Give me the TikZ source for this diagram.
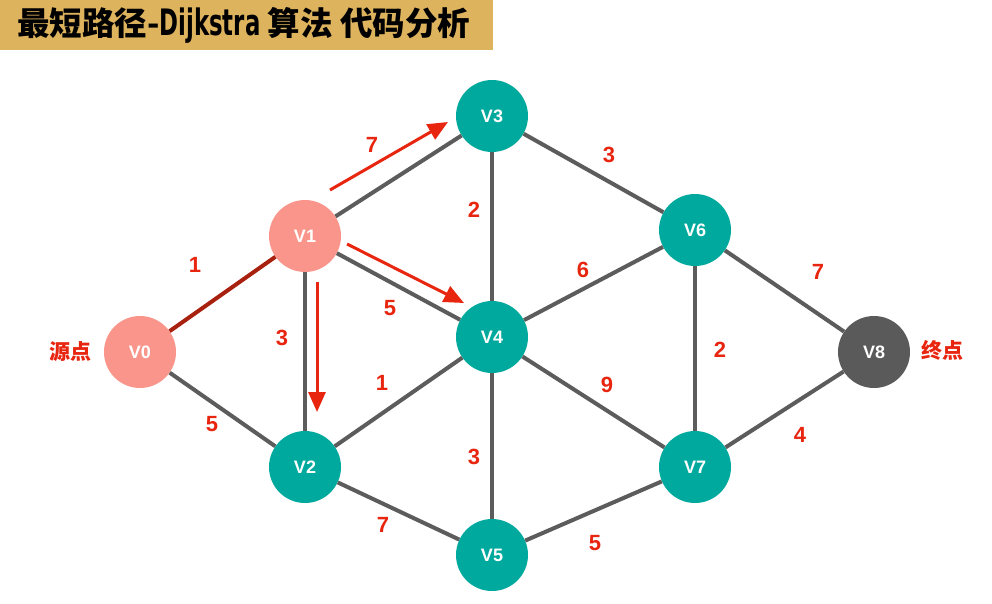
\documentclass[tikz,border=0pt]{standalone}
\usepackage{fontspec}
\setmainfont{Liberation Sans}
\newfontfamily\cjk{Noto Sans CJK SC}
\newfontfamily\cond{DejaVu Sans Condensed}
\usetikzlibrary{arrows.meta}
\definecolor{teal1}{HTML}{00A99D}
\definecolor{pink1}{HTML}{F9958B}
\definecolor{dark1}{HTML}{5A5A5A}
\definecolor{edgec}{HTML}{5C5C5C}
\definecolor{redl}{HTML}{E8250F}
\definecolor{gold1}{HTML}{DDB35E}
\definecolor{brown1}{HTML}{A8200E}
\tikzset{
  vert/.style={circle, minimum size=72pt, inner sep=0pt, text=white, font=\fontsize{18}{18}\selectfont\bfseries},
  tv/.style={vert, fill=teal1},
  pv/.style={vert, fill=pink1},
  dv/.style={vert, fill=dark1},
  edge/.style={draw=edgec, line width=4pt},
  wt/.style={text=redl, font=\fontsize{22}{22}\selectfont\bfseries, inner sep=0pt},
  side/.style={text=redl, font=\cjk\fontsize{21}{21}\selectfont\bfseries, inner sep=0pt},
  rarrow/.style={draw=redl, line width=3pt, -{Triangle[length=20pt,width=17pt]}},
}
\begin{document}
\begin{tikzpicture}[x=1pt,y=-1pt]
\useasboundingbox (0,0) rectangle (992,604);
\fill[white] (0,0) rectangle (992,604);
% title
\fill[gold1] (0,0) rectangle (493,50);
\node[anchor=west, inner sep=0pt, font=\cjk\fontsize{32.5}{32.5}\selectfont\bfseries] (title) at (17,25)
  {最短路径-{\cond\bfseries\scalebox{0.78}[1.12]{Dijkstra}} 算法 代码分析};
% vertices
\node[pv] (v0) at (140,352) {V0};
\node[pv] (v1) at (305,236) {V1};
\node[tv] (v3) at (492,116) {V3};
\node[tv] (v6) at (695,230) {V6};
\node[tv] (v4) at (492,337) {V4};
\node[dv] (v8) at (874,352) {V8};
\node[tv] (v2) at (305,467) {V2};
\node[tv] (v7) at (695,467) {V7};
\node[tv] (v5) at (492,555) {V5};
% edges
\path[edge] (v1) -- (v3);
\path[edge] (v3) -- (v4);
\path[edge] (v3) -- (v6);
\path[edge] (v1) -- (v4);
\path[edge] (v1) -- (v2);
\path[edge] (v4) -- (v6);
\path[edge] (v4) -- (v2);
\path[edge] (v0) -- (v2);
\path[edge] (v4) -- (v5);
\path[edge] (v4) -- (v7);
\path[edge] (v6) -- (v7);
\path[edge] (v6) -- (v8);
\path[edge] (v7) -- (v8);
\path[edge] (v2) -- (v5);
\path[edge] (v5) -- (v7);
\path[draw=brown1, line width=4pt] (v0) -- (v1);
% weights
\node[wt] (w01) at (195,265) {1};
\node[wt] (w13) at (372,145) {7};
\node[wt] (w34) at (474,210) {2};
\node[wt] (w36) at (609,155) {3};
\node[wt] (w14) at (390,308) {5};
\node[wt] (w12) at (282,338) {3};
\node[wt] (w46) at (583,270) {6};
\node[wt] (w42) at (382,383) {1};
\node[wt] (w02) at (212,424) {5};
\node[wt] (w45) at (474,457) {3};
\node[wt] (w47) at (607,385) {9};
\node[wt] (w67) at (720,350) {2};
\node[wt] (w68) at (818,272) {7};
\node[wt] (w78) at (800,435) {4};
\node[wt] (w25) at (383,525) {7};
\node[wt] (w57) at (595,543) {5};
% side labels
\node[side] (src) at (70,352) {源点};
\node[side] (dst) at (942,350) {终点};
% red arrows
\coordinate (a1s) at (330,190); \coordinate (a1e) at (448,122);
\coordinate (a2s) at (347,244); \coordinate (a2e) at (464,303);
\coordinate (a3s) at (317,282); \coordinate (a3e) at (317,412);
\draw[rarrow] (a1s) -- (a1e);
\draw[rarrow] (a2s) -- (a2e);
\draw[rarrow] (a3s) -- (a3e);
\end{tikzpicture}
\end{document}
